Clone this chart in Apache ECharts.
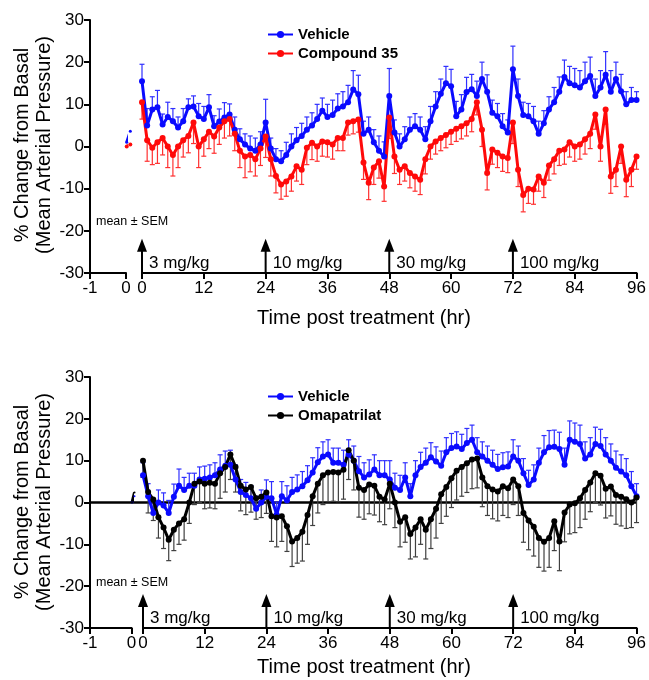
<!DOCTYPE html>
<html>
<head>
<meta charset="utf-8">
<script src="https://cdn.jsdelivr.net/npm/echarts@6/dist/echarts.min.js"></script>
<style>html,body{margin:0;padding:0;background:#fff}#c{width:649px;height:680px}</style>
</head>
<body>
<div id="c"></div>
<script>
// ---------- data ----------
const hours = []; for (let h = 0; h <= 96; h++) hours.push(h);
const doseTimes = [0, 24, 48, 72];
const doseLabels = ['3 mg/kg', '10 mg/kg', '30 mg/kg', '100 mg/kg'];

// pre-treatment (left axis segment)
const preTimesTop = [0.02, 0.12];
const preVehTop = [1, 3.6];
const preCmpTop = [0, 0.5];
const preTimesBot = [0.01, 0.07];
const preVehBot = [0, 1.5];
const preOmaBot = [0, 2.4];

// Top panel: Vehicle vs Compound 35
const vehTop = [
 15.5, 5, 8.8, 9.3, 5.2, 7, 6, 4.5, 6, 9.3, 9.5, 7.2,
 6.5, 9.3, 4.8, 5.9, 6.9, 7.6, 4, 1.7, 0.5, -0.5, -1, 0.5,
 5.7, -0.5, -3, -3.5, -2, 0, 1.5, 2.5, 4, 5, 6.5, 8.5,
 7, 7.5, 9, 9.5, 10.5, 13.5, 12.4, 3, 4, 1, -1, -2.4,
 12, 3.3, 0, 1.7, 4, 4.8, 4, 1.7, 6, 9.5, 12.5, 15,
 14.3, 7.2, 8.8, 12.9, 13.6, 12, 16, 13, 8, 7.2, 4.8, 3.3,
 18.3, 12, 7.5, 7.2, 6, 3, 5.5, 8.8, 10.5, 13, 16.5, 15,
 14.5, 14, 15.5, 16.7, 12, 14, 17, 13, 16, 13.1, 10, 11,
 11];
const vehTopErr = [
 4, 4, 3, 4, 2.5, 3.5, 3, 2.5, 3, 2, 2.5, 3,
 3, 3, 2.5, 3, 3.5, 2.5, 3, 2.5, 2.5, 3, 3, 3,
 5.5, 2.5, 2.5, 2.5, 3, 3, 3, 3, 3, 3, 3.5, 3,
 3, 3.5, 3.5, 3.5, 4, 4.5, 4.5, 3, 3, 3, 3.5, 3.5,
 6.5, 3, 3, 3, 3, 3, 3, 3, 3.5, 3.5, 3.5, 4,
 4, 3.5, 3.5, 3.5, 3.5, 3.5, 4, 4, 3, 3, 3, 3,
 5.5, 4, 3, 3, 3.5, 3, 3, 3, 3.5, 3.5, 4, 4,
 4, 4, 4.5, 4.5, 4, 4, 5.5, 5, 4, 4, 3, 3,
 2];
const cmpTop = [
 10.5, 1.5, -0.3, 1, 2, 0, -2, 0, 1.5, 2.5, 5.7, 0,
 1.7, 3.5, 2.4, 4.5, 6, 6.5, 3, -1, -2.4, -2, -3, -0.5,
 2.4, -3, -7, -9, -8.3, -7.1, -4.7, -5.5, -0.3, 0.9, 0, 1.2,
 1, 0.5, 2, 2, 5.7, 6, 6.4, -3.8, -8.6, -5, -3.5, -9.5,
 6.9, -2.4, -5.5, -4.7, -6.3, -7.1, -7.9, -3, 0, 1.2, 2, 2.7,
 3.5, 4.2, 4.8, 5.5, 6.5, 10.5, 4, -6.3, -0.7, -1.5, -2.4, -2.7,
 5.7, -5.5, -11.5, -10, -10.2, -7.1, -8.6, -4.5, -3, -1, -0.7, 1,
 0, 0.5, 1.7, 3, 7.6, 0, 8.8, -7.1, -5.5, 0, -7.9, -5.5,
 -2.4];
const cmpTopErr = [
 4, 5, 4, 5, 4, 5, 5, 5, 4, 4, 5, 5,
 4, 4, 4, 4, 4, 4, 4, 4, 5, 4, 4, 4,
 5, 4, 4, 3.5, 3.5, 3.5, 3.5, 3.5, 4, 4, 3.5, 3.5,
 3.5, 3.5, 3, 3, 3, 3, 3, 4, 4, 4, 4, 3.5,
 5, 4, 3.5, 3.5, 3.5, 3.5, 3.5, 3.5, 3, 3, 3, 3,
 3, 3, 3, 3, 3, 3, 4, 4, 3.5, 3.5, 3.5, 3.5,
 5, 4, 4, 3.5, 3.5, 3.5, 3.5, 3.5, 3.5, 3.5, 3.5, 3.5,
 3.5, 3.5, 3.5, 3.5, 3.5, 3.5, 3.5, 4, 4, 4, 4, 4,
 3];

// Bottom panel: Vehicle vs Omapatrilat
const vehBot = [
 6.5, 1.5, -2.5, 0, -0.7, -2.5, 1.4, 4, 3, 4, 4, 5.5,
 5.7, 6, 6.5, 7.9, 8.8, 9, 5.5, 2.5, 1.8, 1, -1.5, 0,
 1.4, 1, -2.9, 1.5, 0.5, 2.5, 3.1, 3.9, 5.3, 7.2, 9.6, 11,
 11.5, 9.5, 9.5, 9, 11.5, 10, 7.5, 6, 6.7, 7.9, 6.5, 6.5,
 5.5, 3.5, 3, 6, 1.5, 6.5, 8.5, 9.5, 10.8, 9.8, 8.8, 12,
 13, 13.4, 12.8, 14.2, 15, 12, 11, 10, 9, 8, 8.4, 8.6,
 11, 10, 7, 4.2, 5.5, 9.5, 12, 13.2, 13.3, 12.8, 9, 15,
 14.5, 14, 10.5, 11.5, 14, 13.5, 11.5, 10, 8.3, 7.4, 6.5, 3.9,
 1.5];
const vehBotErr = [
 3, 3, 3, 3, 3, 3, 3, 4, 3, 3, 3, 3,
 3, 3, 3, 3.5, 3.5, 3.5, 3.5, 3, 3, 3, 3, 3,
 4, 4, 3, 3.5, 3.5, 3.5, 3.5, 3.5, 3.5, 3.5, 3.5, 3.5,
 3.5, 3.5, 3.5, 3.5, 3.5, 3.5, 3.5, 3.5, 3.5, 3.5, 3.5, 3.5,
 4.5, 3.5, 3.5, 3.5, 3, 3.5, 3.5, 3.5, 3.5, 3.5, 3.5, 3.5,
 3.5, 3.5, 3.5, 3.5, 3.5, 3.5, 3.5, 3.5, 3.5, 3.5, 3.5, 3.5,
 4, 3.5, 3.5, 3.5, 3.5, 3.5, 4, 4, 4, 4, 4, 4.5,
 4.5, 4.5, 4, 4, 4, 4, 4, 4, 4, 4, 4, 3.5,
 3];
const omaBot = [
 10, 2.5, 0.7, -3.5, -6, -8.9, -6.5, -5, -4, 0, 4.5, 5,
 4.5, 4.7, 4.5, 7, 8.5, 11.5, 8.5, 4, 3.1, 3.7, 1, 1.4,
 2.4, -3.3, -3.6, -3.3, -5.7, -9.3, -8.5, -7, -3, 1.5, 4.5, 6.5,
 7.2, 7.3, 7.2, 7.8, 12.5, 10, 3.5, 3, 4.3, 4, 1.4, 0.7,
 4.5, 0, -4.6, -3.5, -7.5, -6, -4, -6.5, -4, -1.5, 2, 3.7,
 5.8, 7.6, 8.5, 9.4, 10.3, 10.5, 6, 3.9, 3.1, 2.6, 3.9, 3.4,
 5.5, 3.9, -2.5, -4.3, -5.8, -8.5, -9.4, -8.5, -4.5, -9.3, -2.4, -0.5,
 -0.2, 1, 3, 4.8, 7, 6.4, 3.3, 3.8, 1.8, 1.4, 0.8, 0,
 1.2];
const omaBotErr = [
 4, 5, 5, 5, 5, 5, 5, 5, 5, 5, 5, 5,
 6, 6, 6, 6, 6, 6, 6, 6, 6, 6, 5, 5,
 5, 6, 7, 6, 6, 6, 6, 7, 7, 7, 7, 7,
 7, 7, 7, 7, 7, 7, 7, 7, 7, 7, 6, 6,
 6, 6, 6, 6, 6, 7, 6, 7, 7, 7, 7, 7,
 7, 7, 7, 7, 7, 7, 7, 7, 7, 7, 7, 7,
 6, 7, 7, 7, 7, 7, 7, 7, 7, 7, 7, 7,
 7, 7, 7, 7, 7, 7, 7, 7, 7, 7, 7, 6,
 6];

// annotation values (in data units)
const arrowTipVal = -21.9;
const doseLabelVal = -27.8;

// ---------- chart ----------
const FONT = '"Liberation Sans", Arial, sans-serif';
const BLUE = '#0a0aff', RED = '#ff0a0a', BLACK = '#000000';
const chart = echarts.init(document.getElementById('c'), null, {renderer: 'canvas'});

const grids = [
  {left: 90, top: 20, width: 36, height: 253},
  {left: 142, top: 20, width: 495, height: 253},
  {left: 90, top: 377, width: 41.6, height: 251},
  {left: 143, top: 377, width: 494, height: 251}
];

function xAxisDef(gi, isLeft) {
  return {
    type: 'value', gridIndex: gi,
    min: isLeft ? -1 : 0, max: isLeft ? 0 : 96, interval: isLeft ? 1 : 12,
    axisLine: {show: true, onZero: false, lineStyle: {color: '#000', width: 2}},
    axisTick: {show: true, length: 6, lineStyle: {color: '#000', width: 2}},
    axisLabel: {show: true, color: '#000', fontSize: 17, fontFamily: FONT, margin: 7},
    splitLine: {show: false}
  };
}
function yAxisDef(gi, show) {
  return {
    type: 'value', gridIndex: gi, min: -30, max: 30, interval: 10,
    show: show, position: 'left',
    axisLine: {show: true, onZero: false, lineStyle: {color: '#000', width: 2}},
    axisTick: {show: true, length: 6, lineStyle: {color: '#000', width: 2}},
    axisLabel: {show: true, color: '#000', fontSize: 17, fontFamily: FONT, margin: 6},
    splitLine: {show: false}
  };
}

function toPairs(ts, vs) { return ts.map((t, i) => [t, vs[i]]); }
function toTriples(ts, vs, es) { return ts.map((t, i) => [t, vs[i], es[i]]); }

function lineSeries(name, xi, color, ts, vs, size) {
  return {
    type: 'line', name: name, xAxisIndex: xi, yAxisIndex: xi,
    data: toPairs(ts, vs), symbol: 'circle', symbolSize: size || 6, showSymbol: true,
    lineStyle: {color: color, width: 3}, itemStyle: {color: color},
    clip: false, z: 5, animation: false
  };
}

function errSeries(xi, color, ts, vs, es, dir) {
  return {
    type: 'custom', xAxisIndex: xi, yAxisIndex: xi, z: 3, animation: false,
    data: toTriples(ts, vs, es), silent: true,
    renderItem: function (params, api) {
      const x = api.value(0), y = api.value(1), e = api.value(2);
      const p0 = api.coord([x, y]);
      const p1 = api.coord([x, y + dir * e]);
      return {
        type: 'group',
        children: [
          {type: 'line', shape: {x1: p0[0], y1: p0[1], x2: p1[0], y2: p1[1]}, style: {stroke: color, lineWidth: 1.2}},
          {type: 'line', shape: {x1: p1[0] - 2.5, y1: p1[1], x2: p1[0] + 2.5, y2: p1[1]}, style: {stroke: color, lineWidth: 1.2}}
        ]
      };
    }
  };
}

function arrowSeries(xi) {
  return {
    type: 'custom', xAxisIndex: xi, yAxisIndex: xi, z: 6, animation: false, silent: true,
    data: doseTimes.map(t => [t]), clip: false,
    renderItem: function (params, api) {
      const t = api.value(0);
      const base = api.coord([t, -30]);
      const tip = api.coord([t, arrowTipVal]);
      const ly = api.coord([t, doseLabelVal])[1];
      const x = base[0];
      return {
        type: 'group',
        children: [
          {type: 'line', shape: {x1: x, y1: base[1], x2: x, y2: tip[1] + 11}, style: {stroke: '#000', lineWidth: 2}},
          {type: 'polygon', shape: {points: [[x, tip[1]], [x - 5, tip[1] + 13], [x + 5, tip[1] + 13]]}, style: {fill: '#000'}},
          {type: 'text', x: x + 7, y: ly, style: {text: doseLabels[params.dataIndex], fill: '#000', font: '17px ' + FONT, align: 'left', verticalAlign: 'middle', textAlign: 'left', textVerticalAlign: 'middle'}}
        ]
      };
    }
  };
}

function txt(x, y, text, size, opts) {
  opts = opts || {};
  return {
    type: 'text', x: x, y: y, rotation: opts.rot || 0, z: 10,
    style: {text: text, fill: '#000', font: (opts.bold ? 'bold ' : '') + size + 'px ' + FONT,
      align: opts.align || 'center', verticalAlign: 'middle',
      textAlign: opts.align || 'center', textVerticalAlign: 'middle'}
  };
}

const graphics = [
  txt(22, 145, '% Change from Basal', 20, {rot: Math.PI / 2}),
  txt(44, 145, '(Mean Arterial Pressure)', 20, {rot: Math.PI / 2}),
  txt(22, 502, '% Change from Basal', 20, {rot: Math.PI / 2}),
  txt(44, 502, '(Mean Arterial Pressure)', 20, {rot: Math.PI / 2}),
  txt(364, 318, 'Time post treatment (hr)', 20),
  txt(364, 667, 'Time post treatment (hr)', 20),
  txt(96, 222, 'mean ± SEM', 12.5, {align: 'left'}),
  txt(96, 583, 'mean ± SEM', 12.5, {align: 'left'})
];

const legendBase = {
  orient: 'vertical', itemWidth: 25, itemHeight: 9, itemGap: 4,
  textStyle: {fontSize: 15, fontWeight: 'bold', color: '#000', fontFamily: FONT},
  selectedMode: false
};

const option = {
  animation: false,
  textStyle: {fontFamily: FONT},
  grid: grids,
  xAxis: [xAxisDef(0, true), xAxisDef(1, false), xAxisDef(2, true), xAxisDef(3, false)],
  yAxis: [yAxisDef(0, true), yAxisDef(1, false), yAxisDef(2, true), yAxisDef(3, false)],
  legend: [
    Object.assign({}, legendBase, {left: 262, top: 22, data: ['Vehicle', 'Compound 35']}),
    Object.assign({}, legendBase, {left: 262, top: 384, data: ['Vehicle', 'Omapatrilat']})
  ],
  graphic: {elements: graphics},
  series: [
    // top panel
    errSeries(1, '#3030ff', hours, vehTop, vehTopErr, 1),
    errSeries(1, '#ff3030', hours, cmpTop, cmpTopErr, -1),
    lineSeries('Vehicle', 1, BLUE, hours, vehTop),
    lineSeries('Compound 35', 1, RED, hours, cmpTop),
    lineSeries('pre-v1', 0, BLUE, preTimesTop, preVehTop, 3),
    lineSeries('pre-c1', 0, RED, preTimesTop, preCmpTop, 4),
    arrowSeries(1),
    // bottom panel
    errSeries(3, '#3030ff', hours, vehBot, vehBotErr, 1),
    errSeries(3, '#404040', hours, omaBot, omaBotErr, -1),
    lineSeries('Vehicle', 3, BLUE, hours, vehBot),
    lineSeries('Omapatrilat', 3, BLACK, hours, omaBot),
    lineSeries('pre-v2', 2, BLUE, preTimesBot, preVehBot, 2),
    lineSeries('pre-o2', 2, BLACK, preTimesBot, preOmaBot, 2),
    arrowSeries(3)
  ]
};
chart.setOption(option);

// zero reference line in the bottom panel, placed through the axis scales
const y0 = chart.convertToPixel({yAxisIndex: 3}, 0);
const xL = chart.convertToPixel({xAxisIndex: 2}, -1);
const xR = chart.convertToPixel({xAxisIndex: 3}, 96);
graphics.push({type: 'line', z: 2, shape: {x1: xL, y1: y0, x2: xR, y2: y0}, style: {stroke: '#000', lineWidth: 2.5}});
chart.setOption({graphic: {elements: graphics}});
</script>
</body>
</html>
